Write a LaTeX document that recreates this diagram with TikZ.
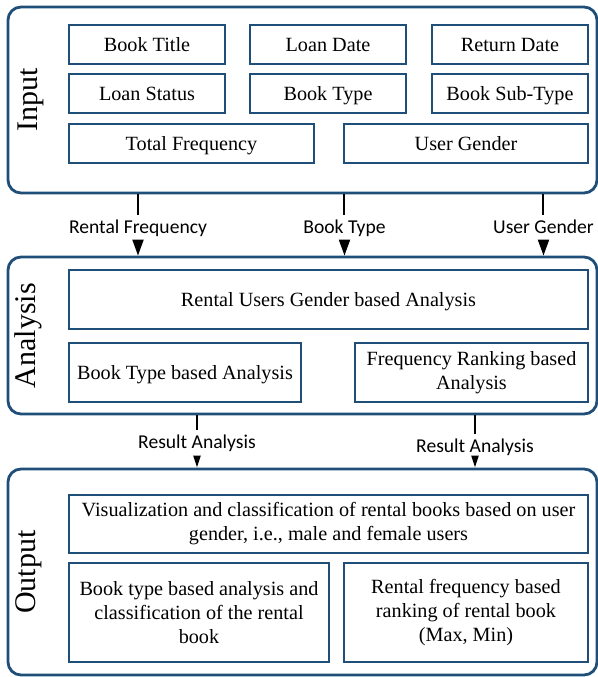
\documentclass[tikz,border=0pt]{standalone}
\usepackage{fontspec}
\setmainfont{Liberation Serif}
\newfontfamily\labelfont{Carlito}
\usetikzlibrary{arrows.meta}
\definecolor{panelblue}{RGB}{31,78,121}
\begin{document}
\begin{tikzpicture}[x=0.5pt,y=-0.5pt,
	panel/.style={draw=panelblue,line width=1.4pt,rounded corners=6.5pt,minimum width=294.5pt,inner sep=0pt},
	field/.style={draw=panelblue,line width=0.9pt,inner sep=2pt,align=center,font=\fontsize{10.1}{12}\selectfont},
	oneline/.style={field,text height=7pt,text depth=0.4pt},
	cell/.style={oneline,minimum width=78pt,minimum height=19.5pt},
	halfcell/.style={oneline,minimum width=122.5pt,minimum height=19.5pt},
	stage/.style={rotate=90,inner sep=0pt,font=\fontsize{15}{18}\selectfont},
	flowlabel/.style={font=\labelfont\fontsize{9.8}{11}\selectfont,text height=6.5pt,text depth=1.5pt,inner xsep=1pt,inner ysep=2.5pt,anchor=base},
	flow/.style={line width=1pt,black},
	bigtip/.style={-{Triangle[length=8pt,width=5.5pt]}},
	smalltip/.style={-{Triangle[length=6pt,width=3.5pt]}}]
	\useasboundingbox (0,0) rectangle (598,677);

	\node[panel,minimum height=93pt] (inp) at (302.5,100) {};
	\node[panel,minimum height=78.5pt] (ana) at (302.5,335.5) {};
	\node[panel,minimum height=103pt] (out) at (302.5,572) {};

	\node[stage] (inplbl) at (31,100) {Input};
	\node[stage] (analbl) at (28,335.5) {Analysis};
	\node[stage] (outlbl) at (29,572) {Output};

	\node[cell] (title) at (147,44.5) {Book Title};
	\node[cell] (loandate) at (328,44.5) {Loan Date};
	\node[cell] (returndate) at (510,44.5) {Return Date};
	\node[cell] (loanstatus) at (147,93.5) {Loan Status};
	\node[cell] (booktype) at (328,93.5) {Book Type};
	\node[cell] (subtype) at (510,93.5) {Book Sub-Type};
	\node[halfcell] (totalfreq) at (191.5,143.5) {Total Frequency};
	\node[halfcell,minimum width=122pt] (gender) at (466,143.5) {User Gender};

	\node[oneline,minimum width=259.5pt,minimum height=29.5pt] (genderana) at (328.5,299.5) {Rental Users Gender based Analysis};
	\node[oneline,minimum width=116pt,minimum height=29.5pt] (typeana) at (185,372.5) {Book Type based Analysis};
	\node[field,minimum width=116.5pt,minimum height=29.5pt] (rankana) at (471.5,372.5) {Frequency Ranking based\\Analysis};

	\node[field,minimum width=259.5pt,minimum height=29pt] (visual) at (328.5,524) {Visualization and classification of rental books based on user\\gender, i.e., male and female users};
	\node[field,minimum width=130pt,minimum height=49.5pt] (typeclass) at (199,612.5) {Book type based analysis and\\classification of the rental\\book};
	\node[field,minimum width=122pt,minimum height=49.5pt] (freqrank) at (466,612.5) {Rental frequency based\\ranking of rental book\\(Max, Min)};

	\node[flowlabel] (rentfreq) at (138,233) {Rental Frequency};
	\node[flowlabel] (typelbl) at (344.5,233) {Book Type};
	\node[flowlabel] (genderlbl) at (543.5,233) {User Gender};
	\node[flowlabel] (resleft) at (197,448) {Result Analysis};
	\node[flowlabel] (resright) at (475,452) {Result Analysis};

	\draw[flow] (inp.south -| rentfreq) -- (rentfreq.north);
	\draw[flow,bigtip] (rentfreq.south) -- (ana.north -| rentfreq);
	\draw[flow] (inp.south -| typelbl) -- (typelbl.north);
	\draw[flow,bigtip] (typelbl.south) -- (ana.north -| typelbl);
	\draw[flow] (inp.south -| genderlbl) -- (genderlbl.north);
	\draw[flow,bigtip] (genderlbl.south) -- (ana.north -| genderlbl);

	\draw[flow] (ana.south -| resleft) -- (resleft.north);
	\draw[flow,smalltip] (resleft.south) -- (out.north -| resleft);
	\draw[flow] (ana.south -| resright) -- (resright.north);
	\draw[flow,smalltip] (resright.south) -- (out.north -| resright);
\end{tikzpicture}
\end{document}
